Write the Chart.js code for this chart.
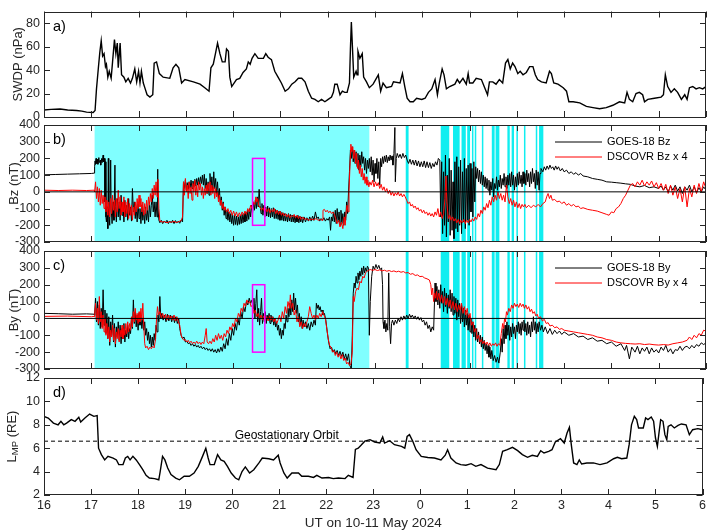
<!DOCTYPE html>
<html>
<head>
<meta charset="utf-8">
<script src="https://cdn.jsdelivr.net/npm/chart.js@4.4.1/dist/chart.umd.min.js"></script>
<style>
  html, body { margin: 0; padding: 0; background: #fff; }
  #wrap { position: relative; width: 709px; height: 532px; }
  #wrap canvas { position: absolute; left: 0; top: 0; }
</style>
</head>
<body>
<div id="wrap">
  <canvas id="pa" width="709" height="532"></canvas>
  <canvas id="pb" width="709" height="532"></canvas>
  <canvas id="pc" width="709" height="532"></canvas>
  <canvas id="pd" width="709" height="532"></canvas>
</div>
<script>
// x axis: hours from 16 UT on 10 May to 06 UT on 11 May
const hourTicks = [16, 17, 18, 19, 20, 21, 22, 23, 24, 25, 26, 27, 28, 29, 30];
const hourLabels = ["16", "17", "18", "19", "20", "21", "22", "23", "0", "1", "2", "3", "4", "5", "6"];
const swdpTicks = [0, 20, 40, 60, 80];
const fieldTicks = [-300, -200, -100, 0, 100, 200, 300, 400];
const lmpTicks = [2, 4, 6, 8, 10, 12];

// a) solar wind dynamic pressure (nPa)
const swdp = [[16.0,6],[16.15,6.5],[16.34,6.8],[16.5,6],[16.69,5.5],[16.8,5],[16.9,4.2],[17.04,3.9],[17.08,5.5],[17.11,24],[17.15,42],[17.18,55],[17.21,65],[17.24,52],[17.27,54],[17.3,43],[17.32,45],[17.35,34],[17.38,39],[17.42,33],[17.45,47],[17.49,66],[17.52,54],[17.55,63],[17.57,42],[17.61,63],[17.64,36],[17.69,34],[17.73,30],[17.78,33],[17.83,29],[17.87,33],[17.92,41],[17.96,30],[18.0,39],[18.03,29],[18.06,39],[18.1,29],[18.14,24],[18.18,19],[18.24,17],[18.3,19],[18.33,46],[18.38,47],[18.44,37],[18.52,34],[18.66,33],[18.73,42],[18.79,45],[18.85,42],[18.91,29],[18.98,32],[19.16,30],[19.3,28],[19.4,25],[19.49,22],[19.53,42],[19.58,45],[19.63,55],[19.67,63],[19.72,54],[19.77,47],[19.83,47],[19.86,58],[19.9,56],[19.93,34],[19.97,26],[20.07,32],[20.14,33],[20.21,38],[20.28,41],[20.32,47],[20.36,45],[20.4,50],[20.46,54],[20.53,50],[20.64,50],[20.69,54],[20.74,51],[20.81,49],[20.88,39],[20.95,34],[21.02,29],[21.1,22],[21.17,24],[21.24,28],[21.31,30],[21.38,33],[21.45,33],[21.52,30],[21.59,22],[21.66,16],[21.73,15],[21.8,13],[21.87,15],[21.94,13],[22.01,15],[22.08,17],[22.12,21],[22.15,28],[22.2,28],[22.26,19],[22.31,22],[22.36,21],[22.41,21],[22.46,29],[22.48,58],[22.5,81],[22.53,53],[22.55,34],[22.6,39],[22.62,36],[22.64,56],[22.68,50],[22.73,54],[22.76,34],[22.82,30],[22.88,25],[22.96,28],[23.07,36],[23.12,22],[23.17,29],[23.24,25],[23.35,26],[23.39,30],[23.53,29],[23.58,37],[23.63,26],[23.68,16],[23.74,13],[23.81,13],[23.88,16],[23.99,15],[24.06,16],[24.13,21],[24.2,24],[24.27,32],[24.32,19],[24.36,29],[24.42,41],[24.46,36],[24.51,24],[24.58,26],[24.69,28],[24.74,32],[24.79,29],[24.86,33],[24.93,28],[24.97,37],[25.0,29],[25.07,29],[25.14,33],[25.25,32],[25.32,25],[25.38,19],[25.42,30],[25.49,30],[25.56,28],[25.63,32],[25.7,29],[25.76,46],[25.81,49],[25.86,41],[25.91,46],[25.96,43],[26.02,37],[26.07,39],[26.13,36],[26.2,38],[26.27,43],[26.34,43],[26.39,36],[26.44,32],[26.52,30],[26.62,29],[26.69,39],[26.73,37],[26.78,29],[26.87,28],[26.98,25],[27.05,22],[27.1,13],[27.19,13],[27.33,12],[27.47,9],[27.61,8],[27.75,7],[27.89,8],[28.03,10],[28.17,13],[28.28,12],[28.33,21],[28.38,15],[28.45,13],[28.52,20],[28.59,21],[28.66,19],[28.7,13],[28.77,15],[28.91,16],[29.05,17],[29.1,19],[29.14,36],[29.19,26],[29.26,21],[29.33,24],[29.4,21],[29.48,15],[29.55,19],[29.6,15],[29.65,25],[29.72,26],[29.79,24],[29.86,25],[29.93,24],[30.0,26]];

// b) GOES-18 Bz (nT)
const bzGoes = [[16.0,102],[16.25,104],[16.5,106],[16.75,108],[17.0,110],[17.06,112],[17.07,150],[17.08,185],[17.09,165],[17.1,200],[17.11,170],[17.13,195],[17.14,165],[17.16,205],[17.17,175],[17.19,190],[17.2,160],[17.22,200],[17.23,175],[17.25,220],[17.26,180],[17.28,200],[17.29,-60],[17.3,180],[17.31,-150],[17.32,-180],[17.34,-90],[17.35,-220],[17.36,200],[17.37,-120],[17.39,-200],[17.41,190],[17.42,-100],[17.44,-190],[17.46,-60],[17.48,-170],[17.5,160],[17.51,-90],[17.53,-180],[17.55,-40],[17.57,-150],[17.59,-60],[17.61,-170],[17.63,-20],[17.65,-140],[17.67,-70],[17.69,-180],[17.71,-50],[17.73,-150],[17.75,-80],[17.77,-170],[17.79,-40],[17.81,-140],[17.83,-90],[17.85,-175],[17.87,20],[17.89,-120],[17.91,-60],[17.93,-160],[17.95,-90],[17.97,-180],[17.99,-70],[18.01,-160],[18.03,-100],[18.05,-190],[18.07,-80],[18.09,-170],[18.11,-110],[18.13,-190],[18.15,-90],[18.17,-170],[18.19,-110],[18.21,-180],[18.23,-60],[18.25,-150],[18.27,-80],[18.29,-20],[18.31,-120],[18.33,-60],[18.35,-150],[18.37,-60],[18.39,-150],[18.4,135],[18.41,-80],[18.43,-170],[18.45,-185],[18.48,-170],[18.51,-190],[18.54,-175],[18.57,-185],[18.6,-170],[18.63,-190],[18.66,-175],[18.69,-185],[18.72,-170],[18.75,-190],[18.78,-172],[18.81,-185],[18.84,-175],[18.87,-188],[18.9,-170],[18.93,-180],[18.95,60],[18.97,20],[18.99,70],[19.01,10],[19.03,55],[19.05,15],[19.07,60],[19.09,25],[19.11,70],[19.13,20],[19.15,65],[19.17,30],[19.19,75],[19.21,35],[19.23,80],[19.25,40],[19.27,85],[19.29,45],[19.31,90],[19.33,50],[19.35,100],[19.37,40],[19.39,105],[19.41,20],[19.43,80],[19.45,-10],[19.47,60],[19.49,-20],[19.51,110],[19.53,10],[19.55,90],[19.57,0],[19.59,120],[19.61,20],[19.63,80],[19.65,-10],[19.67,60],[19.69,-40],[19.71,20],[19.73,-80],[19.75,-30],[19.77,-110],[19.79,-60],[19.81,-140],[19.83,-90],[19.85,-160],[19.87,-110],[19.89,-170],[19.91,-120],[19.93,-180],[19.95,-130],[19.97,-190],[19.99,-140],[20.01,-200],[20.03,-140],[20.05,-195],[20.07,-145],[20.09,-200],[20.11,-150],[20.13,-195],[20.15,-140],[20.17,-190],[20.19,-135],[20.21,-185],[20.23,-130],[20.25,-180],[20.27,-120],[20.29,-175],[20.31,-110],[20.33,-165],[20.35,-100],[20.37,-150],[20.39,-80],[20.41,-130],[20.43,-60],[20.45,-110],[20.47,-50],[20.49,-100],[20.51,-30],[20.53,-90],[20.55,15],[20.57,-80],[20.59,-130],[20.61,-70],[20.63,-140],[20.65,-80],[20.67,-150],[20.69,-90],[20.71,-145],[20.73,-85],[20.75,-150],[20.77,-95],[20.79,-155],[20.81,-100],[20.83,-150],[20.85,-95],[20.87,-160],[20.89,-105],[20.91,-160],[20.93,-110],[20.95,-165],[20.97,-115],[20.99,-170],[21.01,-120],[21.03,-170],[21.05,-125],[21.07,-175],[21.09,-130],[21.11,-175],[21.13,-135],[21.15,-180],[21.17,-130],[21.19,-175],[21.21,-135],[21.23,-180],[21.25,-140],[21.27,-180],[21.29,-140],[21.31,-185],[21.33,-145],[21.35,-180],[21.37,-140],[21.39,-185],[21.41,-145],[21.43,-180],[21.45,-150],[21.47,-185],[21.5,-150],[21.53,-180],[21.56,-155],[21.59,-175],[21.62,-150],[21.65,-175],[21.68,-145],[21.71,-170],[21.74,-120],[21.77,-160],[21.8,-150],[21.83,-175],[21.86,-160],[21.89,-170],[21.92,-155],[21.95,-175],[21.98,-160],[22.01,-170],[22.04,-150],[22.06,-230],[22.08,-150],[22.1,-175],[22.12,-120],[22.14,-180],[22.16,-110],[22.18,-190],[22.2,-100],[22.22,-180],[22.24,-120],[22.26,-200],[22.28,-110],[22.3,-190],[22.32,-130],[22.34,-200],[22.36,-120],[22.38,-170],[22.4,-60],[22.42,-130],[22.44,0],[22.46,120],[22.48,250],[22.5,200],[22.52,270],[22.54,180],[22.56,250],[22.58,170],[22.6,240],[22.62,150],[22.64,230],[22.66,130],[22.68,220],[22.7,150],[22.72,240],[22.74,170],[22.76,210],[22.78,130],[22.8,200],[22.82,110],[22.84,190],[22.86,140],[22.88,200],[22.9,120],[22.92,210],[22.94,100],[22.96,190],[22.98,60],[23.0,170],[23.02,110],[23.04,200],[23.06,80],[23.08,180],[23.1,40],[23.12,200],[23.14,150],[23.16,210],[23.18,170],[23.2,215],[23.22,180],[23.24,220],[23.26,175],[23.28,210],[23.3,185],[23.32,220],[23.34,190],[23.36,215],[23.38,160],[23.4,230],[23.42,385],[23.43,60],[23.45,200],[23.47,230],[23.5,205],[23.53,225],[23.56,200],[23.59,230],[23.62,205],[23.65,220],[23.68,190],[23.71,170],[23.74,195],[23.77,165],[23.8,190],[23.83,160],[23.86,190],[23.89,155],[23.92,185],[23.95,150],[23.98,180],[24.01,150],[24.04,185],[24.07,145],[24.1,180],[24.13,145],[24.16,175],[24.19,140],[24.22,170],[24.25,150],[24.28,180],[24.31,160],[24.34,200],[24.37,190],[24.39,-150],[24.41,180],[24.43,-250],[24.45,120],[24.47,-200],[24.49,220],[24.51,-270],[24.53,100],[24.55,-180],[24.57,200],[24.59,-260],[24.61,130],[24.63,-230],[24.65,60],[24.67,-280],[24.69,180],[24.71,-220],[24.73,210],[24.75,-240],[24.77,150],[24.79,-200],[24.81,190],[24.83,-250],[24.85,120],[24.87,-180],[24.89,200],[24.91,-220],[24.93,140],[24.95,-170],[24.97,160],[24.99,-200],[25.01,170],[25.03,-120],[25.05,140],[25.07,-150],[25.09,180],[25.11,-60],[25.13,150],[25.15,80],[25.17,140],[25.19,60],[25.21,130],[25.23,50],[25.25,120],[25.27,40],[25.29,100],[25.31,30],[25.33,90],[25.35,20],[25.37,80],[25.39,10],[25.41,70],[25.43,-20],[25.45,60],[25.47,10],[25.49,80],[25.51,-30],[25.53,50],[25.55,20],[25.57,90],[25.59,10],[25.61,70],[25.63,30],[25.65,100],[25.67,20],[25.69,80],[25.71,40],[25.73,110],[25.75,30],[25.77,90],[25.79,20],[25.81,100],[25.83,40],[25.85,110],[25.87,30],[25.89,120],[25.91,40],[25.93,100],[25.95,10],[25.97,90],[25.99,30],[26.01,110],[26.03,40],[26.05,120],[26.07,50],[26.09,100],[26.11,30],[26.13,120],[26.15,50],[26.17,110],[26.19,40],[26.21,130],[26.23,60],[26.25,110],[26.27,30],[26.29,120],[26.31,50],[26.33,140],[26.35,60],[26.37,110],[26.39,20],[26.41,130],[26.43,40],[26.45,120],[26.47,10],[26.49,110],[26.51,140],[26.55,120],[26.58,150],[26.61,130],[26.64,155],[26.67,135],[26.7,160],[26.73,140],[26.76,150],[26.79,130],[26.82,155],[26.85,135],[26.88,150],[26.92,125],[26.96,140],[27.0,120],[27.05,130],[27.1,110],[27.15,120],[27.2,105],[27.25,115],[27.3,100],[27.35,110],[27.4,95],[27.5,90],[27.6,80],[27.7,75],[27.8,70],[27.9,60],[28.0,58],[28.1,55],[28.2,52],[28.3,48],[28.4,45],[28.5,35],[28.6,30],[28.7,38],[28.8,25],[28.9,30],[29.0,20],[29.05,35],[29.1,10],[29.15,30],[29.2,0],[29.25,35],[29.3,10],[29.35,40],[29.4,5],[29.45,30],[29.5,-10],[29.55,30],[29.6,10],[29.65,40],[29.7,0],[29.75,30],[29.8,-5],[29.85,25],[29.9,0],[29.95,30],[30.0,10]];

// b) DSCOVR Bz x 4 (nT)
const bzDscovr = [[16.0,10],[16.3,8],[16.6,10],[16.9,8],[17.06,10],[17.07,0],[17.09,60],[17.11,-40],[17.13,30],[17.15,-60],[17.17,20],[17.19,-80],[17.21,10],[17.23,-70],[17.25,-20],[17.27,-100],[17.29,-30],[17.31,-120],[17.33,-50],[17.35,-140],[17.37,-60],[17.39,-150],[17.41,-40],[17.43,-130],[17.45,-20],[17.47,-110],[17.49,-50],[17.51,-150],[17.53,-40],[17.55,-120],[17.57,10],[17.59,-100],[17.61,-30],[17.63,-140],[17.65,-60],[17.67,-120],[17.69,-30],[17.71,-150],[17.73,-60],[17.75,-130],[17.77,-40],[17.79,-160],[17.81,-70],[17.83,-140],[17.85,-80],[17.87,-170],[17.89,-90],[17.91,-140],[17.93,-60],[17.95,-120],[17.97,-40],[17.99,-100],[18.01,-20],[18.03,-90],[18.05,-40],[18.07,-120],[18.09,-60],[18.11,-140],[18.13,-70],[18.15,-130],[18.17,-50],[18.19,-110],[18.21,-30],[18.23,-80],[18.25,-10],[18.27,-60],[18.29,20],[18.31,-40],[18.33,40],[18.35,-20],[18.37,60],[18.39,-30],[18.41,75],[18.43,-100],[18.45,-175],[18.5,-180],[18.55,-178],[18.6,-185],[18.65,-178],[18.7,-182],[18.75,-176],[18.8,-184],[18.85,-178],[18.9,-172],[18.93,-150],[18.95,60],[18.97,-20],[18.99,80],[19.01,0],[19.03,40],[19.05,-40],[19.07,60],[19.09,-10],[19.11,30],[19.13,-50],[19.15,50],[19.17,0],[19.19,70],[19.21,-20],[19.23,40],[19.25,-30],[19.27,60],[19.29,10],[19.31,50],[19.33,-20],[19.35,30],[19.37,-40],[19.39,20],[19.41,-20],[19.43,40],[19.45,-10],[19.47,50],[19.49,0],[19.51,60],[19.53,-20],[19.55,40],[19.57,-10],[19.59,30],[19.61,-40],[19.63,20],[19.65,-30],[19.67,0],[19.69,-60],[19.71,-20],[19.73,-80],[19.75,-50],[19.77,-100],[19.79,-70],[19.81,-110],[19.83,-90],[19.86,-120],[19.89,-100],[19.92,-130],[19.95,-110],[19.98,-140],[20.01,-115],[20.04,-145],[20.07,-120],[20.1,-150],[20.13,-125],[20.16,-145],[20.19,-120],[20.22,-140],[20.25,-115],[20.28,-135],[20.31,-100],[20.34,-120],[20.37,-80],[20.4,-100],[20.43,-60],[20.46,-75],[20.48,-30],[20.5,-60],[20.52,-40],[20.54,-80],[20.57,-95],[20.6,-110],[20.63,-95],[20.66,-115],[20.69,-100],[20.72,-120],[20.75,-100],[20.78,-125],[20.81,-105],[20.84,-120],[20.87,-100],[20.9,-130],[20.93,-110],[20.96,-135],[20.99,-115],[21.02,-140],[21.05,-125],[21.08,-145],[21.11,-130],[21.14,-150],[21.17,-135],[21.2,-155],[21.23,-140],[21.26,-150],[21.29,-135],[21.32,-155],[21.35,-140],[21.38,-160],[21.41,-145],[21.44,-165],[21.47,-150],[21.5,-165],[21.55,-160],[21.6,-170],[21.65,-162],[21.7,-168],[21.75,-160],[21.8,-170],[21.85,-165],[21.88,-170],[21.9,-110],[21.93,-105],[21.96,-120],[21.99,-110],[22.02,-125],[22.05,-115],[22.08,-130],[22.11,-120],[22.14,-135],[22.17,-160],[22.2,-190],[22.23,-170],[22.26,-210],[22.29,-180],[22.32,-220],[22.35,-150],[22.37,-200],[22.39,-120],[22.41,-80],[22.43,-120],[22.45,0],[22.47,150],[22.49,285],[22.51,240],[22.53,270],[22.55,200],[22.57,250],[22.59,170],[22.61,230],[22.63,140],[22.65,190],[22.67,110],[22.69,160],[22.71,90],[22.73,140],[22.75,70],[22.77,110],[22.79,50],[22.81,90],[22.83,40],[22.85,70],[22.87,30],[22.89,60],[22.92,40],[22.95,70],[22.98,30],[23.01,60],[23.04,35],[23.07,55],[23.1,20],[23.13,45],[23.16,10],[23.19,30],[23.22,0],[23.25,20],[23.28,-10],[23.31,10],[23.34,-20],[23.37,0],[23.4,-25],[23.43,-5],[23.46,-20],[23.49,0],[23.52,-25],[23.55,-10],[23.58,-30],[23.61,-15],[23.64,-30],[23.67,-50],[23.7,-70],[23.73,-60],[23.76,-85],[23.79,-75],[23.82,-95],[23.85,-85],[23.88,-105],[23.91,-95],[23.94,-115],[23.97,-105],[24.0,-125],[24.03,-110],[24.06,-130],[24.09,-120],[24.12,-140],[24.15,-125],[24.18,-145],[24.21,-130],[24.24,-150],[24.27,-120],[24.3,-140],[24.33,-100],[24.36,-150],[24.39,-120],[24.42,-160],[24.45,-130],[24.48,-40],[24.5,95],[24.52,-60],[24.55,-160],[24.58,-140],[24.61,-170],[24.64,-150],[24.67,-175],[24.7,-160],[24.73,-185],[24.76,-165],[24.79,-190],[24.82,-170],[24.85,-185],[24.88,-165],[24.91,-190],[24.94,-170],[24.97,-185],[25.0,-165],[25.03,-180],[25.06,-160],[25.09,-175],[25.12,-150],[25.15,-165],[25.18,-130],[25.21,-150],[25.24,-110],[25.27,-130],[25.3,-90],[25.33,-110],[25.36,-70],[25.39,-95],[25.42,-50],[25.45,-80],[25.48,-30],[25.51,-60],[25.54,-20],[25.57,-50],[25.6,0],[25.63,-40],[25.66,-10],[25.69,-50],[25.72,-20],[25.75,-60],[25.78,40],[25.81,-30],[25.84,-70],[25.87,-40],[25.9,-80],[25.93,-50],[25.96,-90],[25.99,-60],[26.02,-95],[26.05,-70],[26.08,-100],[26.11,-75],[26.14,-90],[26.17,-75],[26.2,-95],[26.25,-80],[26.3,-95],[26.35,-80],[26.4,-90],[26.45,-75],[26.5,-90],[26.55,-70],[26.6,-60],[26.63,-30],[26.66,-10],[26.69,-40],[26.72,-20],[26.75,-50],[26.8,-45],[26.85,-60],[26.9,-55],[26.95,-70],[27.0,-60],[27.05,-80],[27.1,-70],[27.15,-85],[27.2,-75],[27.25,-90],[27.3,-85],[27.35,-100],[27.4,-95],[27.5,-105],[27.6,-110],[27.7,-115],[27.8,-125],[27.9,-135],[27.95,-140],[28.0,-120],[28.05,-125],[28.1,-100],[28.15,-90],[28.2,-70],[28.25,-40],[28.3,-20],[28.35,10],[28.4,40],[28.45,50],[28.5,30],[28.55,60],[28.6,40],[28.65,70],[28.7,35],[28.75,60],[28.8,40],[28.85,65],[28.9,30],[28.95,55],[29.0,20],[29.05,50],[29.1,10],[29.15,45],[29.2,-10],[29.25,40],[29.3,-20],[29.35,30],[29.4,-40],[29.45,20],[29.5,-60],[29.55,30],[29.6,-90],[29.65,20],[29.7,-30],[29.75,40],[29.8,-10],[29.85,50],[29.9,0],[29.95,60],[30.0,20]];

// c) GOES-18 By (nT)
const byGoes = [[16.0,30],[16.3,28],[16.6,25],[16.9,27],[17.06,25],[17.07,20],[17.09,120],[17.11,-20],[17.13,100],[17.15,-40],[17.17,80],[17.19,-60],[17.21,60],[17.23,-50],[17.25,170],[17.27,-40],[17.29,50],[17.31,-90],[17.33,30],[17.35,-120],[17.37,10],[17.39,-160],[17.41,-20],[17.43,-100],[17.45,20],[17.47,-140],[17.49,-30],[17.51,-170],[17.53,-50],[17.55,-110],[17.57,-20],[17.59,-130],[17.61,-40],[17.63,-150],[17.65,-60],[17.67,-120],[17.69,-30],[17.71,-140],[17.73,-70],[17.75,-110],[17.77,-40],[17.79,-120],[17.81,-60],[17.83,-90],[17.85,0],[17.87,-60],[17.89,110],[17.91,-30],[17.93,40],[17.95,-50],[17.97,20],[17.99,-70],[18.01,30],[18.03,-40],[18.05,10],[18.07,-60],[18.09,0],[18.11,-70],[18.13,-20],[18.15,-100],[18.17,-60],[18.19,-130],[18.21,-80],[18.23,-150],[18.25,-100],[18.27,-170],[18.29,-110],[18.31,-160],[18.33,-90],[18.35,-130],[18.37,-40],[18.39,-80],[18.41,20],[18.43,-20],[18.45,130],[18.47,0],[18.49,30],[18.52,-10],[18.55,20],[18.58,-20],[18.61,25],[18.64,-15],[18.67,20],[18.7,-20],[18.73,15],[18.76,-25],[18.79,10],[18.82,-30],[18.85,0],[18.87,-60],[18.9,-100],[18.93,-120],[18.96,-110],[18.99,-140],[19.02,-135],[19.05,-150],[19.08,-145],[19.11,-160],[19.14,-150],[19.17,-165],[19.2,-155],[19.23,-170],[19.26,-160],[19.29,-175],[19.32,-165],[19.35,-180],[19.38,-170],[19.41,-185],[19.44,-175],[19.47,-190],[19.5,-180],[19.53,-195],[19.56,-180],[19.59,-200],[19.62,-185],[19.65,-205],[19.68,-180],[19.71,-200],[19.74,-170],[19.77,-195],[19.8,-150],[19.83,-180],[19.86,-120],[19.89,-160],[19.92,-90],[19.95,-130],[19.98,-60],[20.01,-100],[20.04,-30],[20.07,-70],[20.1,0],[20.13,-40],[20.16,40],[20.19,0],[20.22,70],[20.25,40],[20.28,100],[20.31,80],[20.34,120],[20.37,90],[20.4,110],[20.42,60],[20.44,120],[20.46,0],[20.48,90],[20.5,170],[20.52,-20],[20.54,60],[20.56,-40],[20.58,40],[20.6,120],[20.62,-30],[20.64,30],[20.66,-20],[20.68,40],[20.7,-30],[20.72,20],[20.74,-10],[20.76,30],[20.78,-30],[20.8,20],[20.82,-20],[20.84,10],[20.86,-40],[20.88,0],[20.9,-50],[20.92,-20],[20.94,-70],[20.96,-40],[20.98,-100],[21.0,-60],[21.02,-120],[21.04,-70],[21.06,-100],[21.08,-30],[21.1,-60],[21.12,20],[21.14,-20],[21.16,60],[21.18,10],[21.2,90],[21.22,20],[21.24,110],[21.26,40],[21.28,150],[21.3,50],[21.32,120],[21.34,30],[21.36,80],[21.38,-20],[21.4,30],[21.42,-40],[21.44,10],[21.46,-60],[21.48,-10],[21.5,-50],[21.53,-20],[21.56,-60],[21.59,-30],[21.62,-70],[21.65,-20],[21.68,-50],[21.71,-10],[21.74,-40],[21.76,90],[21.78,60],[21.8,80],[21.82,50],[21.84,70],[21.86,40],[21.88,50],[21.9,20],[21.93,30],[21.96,-10],[21.99,-80],[22.02,-140],[22.05,-180],[22.08,-170],[22.11,-200],[22.14,-185],[22.17,-210],[22.2,-190],[22.23,-220],[22.26,-195],[22.29,-225],[22.32,-200],[22.35,-240],[22.38,-210],[22.41,-250],[22.44,-210],[22.47,-280],[22.5,-300],[22.52,-100],[22.54,150],[22.56,210],[22.58,180],[22.6,250],[22.62,210],[22.64,270],[22.66,230],[22.68,280],[22.7,250],[22.72,300],[22.74,260],[22.76,310],[22.78,270],[22.8,300],[22.82,280],[22.84,310],[22.86,300],[22.88,-100],[22.9,100],[22.93,250],[22.96,310],[22.99,290],[23.02,320],[23.05,295],[23.08,315],[23.11,290],[23.14,300],[23.16,200],[23.17,-20],[23.19,-60],[23.21,-10],[23.23,-80],[23.25,-30],[23.27,-70],[23.29,270],[23.31,-50],[23.33,-150],[23.35,-30],[23.37,-10],[23.4,-40],[23.43,-10],[23.46,-30],[23.49,0],[23.52,-20],[23.55,10],[23.58,-10],[23.61,15],[23.64,-5],[23.67,20],[23.7,0],[23.73,25],[23.76,5],[23.79,20],[23.82,0],[23.85,15],[23.88,-5],[23.91,10],[23.94,-10],[23.97,5],[24.0,-20],[24.03,-10],[24.06,-40],[24.09,-20],[24.12,-60],[24.15,-40],[24.18,-80],[24.21,-50],[24.24,-70],[24.27,210],[24.29,100],[24.31,190],[24.33,80],[24.35,170],[24.37,60],[24.39,200],[24.41,90],[24.43,160],[24.45,40],[24.47,180],[24.49,70],[24.51,150],[24.53,30],[24.55,140],[24.57,60],[24.59,170],[24.61,40],[24.63,150],[24.65,20],[24.67,130],[24.69,30],[24.71,120],[24.73,-10],[24.75,110],[24.77,10],[24.79,90],[24.81,-30],[24.83,80],[24.85,-20],[24.87,60],[24.89,-50],[24.91,50],[24.93,-40],[24.95,30],[24.97,-70],[24.99,20],[25.01,-80],[25.03,0],[25.05,-90],[25.07,-20],[25.09,-110],[25.11,-40],[25.13,-130],[25.15,-60],[25.17,-140],[25.19,-80],[25.21,-150],[25.23,-100],[25.25,-170],[25.27,-110],[25.29,-180],[25.31,-130],[25.33,-190],[25.35,-150],[25.37,-210],[25.39,-160],[25.41,-230],[25.43,-170],[25.45,-240],[25.47,-190],[25.5,-250],[25.53,-220],[25.56,-260],[25.59,-230],[25.62,-265],[25.65,-200],[25.67,-120],[25.69,-200],[25.71,-60],[25.73,-150],[25.75,-40],[25.77,-120],[25.79,-20],[25.81,-100],[25.83,-40],[25.85,-130],[25.87,-50],[25.89,-110],[25.91,-30],[25.93,-90],[25.95,-50],[25.97,-120],[25.99,-40],[26.01,-80],[26.03,-20],[26.05,-90],[26.07,-30],[26.09,-100],[26.11,-20],[26.13,-70],[26.15,-10],[26.17,-80],[26.19,-30],[26.21,-100],[26.23,-20],[26.25,-90],[26.27,-40],[26.29,-110],[26.31,-20],[26.33,-80],[26.35,10],[26.37,-70],[26.39,-20],[26.41,-90],[26.43,-30],[26.45,-80],[26.47,-20],[26.5,-70],[26.53,-40],[26.56,-80],[26.6,-50],[26.65,-90],[26.7,-60],[26.75,-95],[26.8,-70],[26.85,-90],[26.9,-75],[26.95,-95],[27.0,-80],[27.1,-100],[27.2,-90],[27.3,-110],[27.4,-105],[27.5,-125],[27.6,-115],[27.7,-135],[27.8,-130],[27.9,-150],[28.0,-140],[28.1,-165],[28.2,-150],[28.28,-190],[28.32,-160],[28.38,-240],[28.43,-170],[28.5,-200],[28.55,-165],[28.6,-210],[28.65,-175],[28.7,-195],[28.75,-170],[28.8,-210],[28.85,-175],[28.9,-200],[28.95,-185],[29.0,-205],[29.05,-170],[29.1,-190],[29.15,-160],[29.2,-200],[29.25,-180],[29.3,-210],[29.35,-185],[29.4,-190],[29.45,-165],[29.5,-190],[29.55,-170],[29.6,-165],[29.65,-180],[29.7,-160],[29.75,-175],[29.8,-155],[29.85,-165],[29.9,-145],[29.95,-155],[30.0,-145]];

// c) DSCOVR By x 4 (nT)
const byDscovr = [[16.0,12],[16.5,14],[17.0,10],[17.06,12],[17.07,10],[17.09,90],[17.11,-10],[17.13,60],[17.15,-30],[17.17,130],[17.19,-20],[17.21,40],[17.23,-60],[17.25,20],[17.27,-80],[17.29,0],[17.31,-100],[17.33,-30],[17.35,-120],[17.37,-50],[17.39,-140],[17.41,-70],[17.43,-110],[17.45,-40],[17.47,-130],[17.49,-60],[17.51,-150],[17.53,-80],[17.55,-120],[17.57,-60],[17.59,-140],[17.61,-70],[17.63,-110],[17.65,-40],[17.67,-120],[17.69,-60],[17.71,-100],[17.73,-30],[17.75,-90],[17.77,-20],[17.79,-80],[17.81,-30],[17.83,-70],[17.85,10],[17.87,-50],[17.89,40],[17.91,-20],[17.93,60],[17.95,-10],[17.97,30],[17.99,-30],[18.01,40],[18.03,-20],[18.05,60],[18.07,-10],[18.09,90],[18.11,-40],[18.13,-150],[18.15,-175],[18.18,-165],[18.21,-185],[18.24,-170],[18.27,-180],[18.3,-165],[18.33,-175],[18.36,-120],[18.38,0],[18.4,70],[18.42,20],[18.45,40],[18.48,5],[18.51,30],[18.54,0],[18.57,25],[18.6,-10],[18.63,20],[18.66,-5],[18.69,15],[18.72,-10],[18.75,20],[18.78,-15],[18.81,10],[18.84,-20],[18.87,-40],[18.9,-100],[18.93,-120],[18.96,-130],[18.99,-125],[19.02,-140],[19.05,-130],[19.08,-145],[19.11,-135],[19.14,-150],[19.17,-140],[19.2,-150],[19.23,-135],[19.26,-150],[19.29,-140],[19.32,-155],[19.35,-140],[19.38,-150],[19.41,-100],[19.43,-60],[19.45,-140],[19.48,-150],[19.51,-135],[19.54,-150],[19.57,-120],[19.6,-140],[19.63,-100],[19.66,-130],[19.69,-90],[19.72,-120],[19.75,-100],[19.78,-130],[19.81,-90],[19.84,-110],[19.87,-70],[19.9,-90],[19.93,-50],[19.96,-70],[19.99,-30],[20.02,-50],[20.05,0],[20.08,-20],[20.11,30],[20.14,10],[20.17,60],[20.2,40],[20.23,90],[20.26,70],[20.29,110],[20.32,90],[20.35,100],[20.38,70],[20.41,80],[20.44,30],[20.47,50],[20.5,10],[20.53,30],[20.56,0],[20.59,20],[20.62,-10],[20.65,15],[20.68,-10],[20.71,10],[20.74,-15],[20.77,15],[20.8,-10],[20.83,10],[20.86,-20],[20.89,0],[20.92,-30],[20.95,-10],[20.98,20],[21.01,-20],[21.04,40],[21.07,0],[21.1,70],[21.13,30],[21.16,100],[21.19,60],[21.21,140],[21.23,60],[21.26,90],[21.29,20],[21.32,50],[21.35,-20],[21.38,10],[21.41,-50],[21.44,-20],[21.47,-60],[21.5,-30],[21.53,-50],[21.56,-20],[21.59,10],[21.62,70],[21.65,30],[21.68,0],[21.71,20],[21.74,-10],[21.77,20],[21.8,0],[21.83,30],[21.86,10],[21.89,40],[21.92,20],[21.95,0],[21.98,-60],[22.01,-120],[22.04,-160],[22.07,-170],[22.1,-200],[22.13,-190],[22.16,-220],[22.19,-200],[22.22,-230],[22.25,-210],[22.28,-240],[22.31,-215],[22.34,-250],[22.37,-235],[22.4,-270],[22.43,-260],[22.46,-280],[22.49,-270],[22.52,-200],[22.54,130],[22.56,100],[22.59,160],[22.62,180],[22.65,170],[22.68,220],[22.71,210],[22.74,250],[22.77,240],[22.8,270],[22.83,280],[22.86,285],[22.9,290],[22.95,285],[23.0,290],[23.05,284],[23.1,288],[23.15,282],[23.2,286],[23.25,280],[23.3,284],[23.35,278],[23.4,282],[23.45,276],[23.5,280],[23.55,274],[23.6,278],[23.65,270],[23.7,272],[23.75,262],[23.8,266],[23.85,255],[23.9,258],[23.95,248],[24.0,250],[24.05,240],[24.1,235],[24.15,228],[24.18,200],[24.2,140],[24.22,180],[24.24,100],[24.26,150],[24.28,120],[24.3,160],[24.32,110],[24.35,150],[24.38,100],[24.41,140],[24.44,90],[24.47,130],[24.5,80],[24.53,120],[24.56,70],[24.59,110],[24.62,60],[24.65,100],[24.68,50],[24.71,90],[24.74,40],[24.77,80],[24.8,50],[24.83,90],[24.86,30],[24.89,70],[24.92,20],[24.95,60],[24.98,0],[25.01,30],[25.04,-40],[25.07,-20],[25.1,-80],[25.13,-60],[25.16,-120],[25.19,-100],[25.22,-140],[25.25,-125],[25.28,-150],[25.31,-135],[25.34,-155],[25.37,-140],[25.4,-160],[25.43,-145],[25.46,-165],[25.49,-150],[25.52,-160],[25.55,-145],[25.58,-165],[25.61,-150],[25.64,-160],[25.67,-90],[25.7,-30],[25.72,-60],[25.74,0],[25.76,-20],[25.78,40],[25.8,20],[25.83,60],[25.86,40],[25.89,80],[25.92,60],[25.95,90],[25.98,70],[26.01,85],[26.04,65],[26.07,90],[26.1,70],[26.13,85],[26.16,60],[26.19,80],[26.22,55],[26.25,70],[26.28,40],[26.31,55],[26.34,30],[26.37,40],[26.4,15],[26.43,25],[26.46,0],[26.5,10],[26.54,-15],[26.58,-5],[26.62,-30],[26.66,-25],[26.7,-45],[26.75,-40],[26.8,-55],[26.85,-50],[26.9,-65],[26.95,-60],[27.0,-70],[27.1,-75],[27.2,-80],[27.3,-85],[27.4,-90],[27.5,-95],[27.6,-100],[27.7,-110],[27.8,-115],[27.9,-125],[28.0,-130],[28.1,-140],[28.2,-145],[28.3,-148],[28.4,-150],[28.5,-152],[28.6,-150],[28.7,-155],[28.8,-152],[28.9,-156],[29.0,-158],[29.1,-155],[29.2,-158],[29.3,-150],[29.4,-145],[29.5,-140],[29.6,-130],[29.65,-110],[29.7,-125],[29.75,-100],[29.8,-115],[29.85,-90],[29.9,-100],[29.95,-70],[30.0,-75]];

// d) magnetopause standoff distance (RE)
const lmp = [[16.0,8.72],[16.09,8.58],[16.2,8.15],[16.3,8.0],[16.36,8.3],[16.42,8.0],[16.48,8.15],[16.58,8.44],[16.66,8.3],[16.74,8.64],[16.78,8.24],[16.87,8.58],[16.97,8.92],[17.06,8.72],[17.13,8.78],[17.16,6.0],[17.22,5.45],[17.29,5.0],[17.36,5.3],[17.47,5.16],[17.54,5.0],[17.59,4.6],[17.68,4.6],[17.73,5.16],[17.78,5.3],[17.83,5.0],[17.89,5.3],[17.96,5.0],[18.03,4.6],[18.1,4.16],[18.17,3.68],[18.24,3.45],[18.35,3.4],[18.44,3.3],[18.47,4.0],[18.52,5.3],[18.57,5.0],[18.63,4.3],[18.7,3.74],[18.8,3.45],[18.88,3.3],[18.98,3.6],[19.09,3.6],[19.19,3.88],[19.28,4.45],[19.37,5.3],[19.44,6.0],[19.49,5.16],[19.53,4.6],[19.62,4.6],[19.69,5.45],[19.76,5.0],[19.83,4.88],[19.9,4.45],[19.98,3.88],[20.07,3.45],[20.14,3.3],[20.21,4.0],[20.28,4.4],[20.37,3.88],[20.46,4.16],[20.57,4.74],[20.64,5.16],[20.78,5.1],[20.88,5.0],[20.98,5.4],[21.02,4.74],[21.1,3.88],[21.17,3.45],[21.27,3.88],[21.41,3.88],[21.48,3.6],[21.62,3.6],[21.73,3.5],[21.8,3.68],[21.91,3.45],[22.05,3.5],[22.15,3.4],[22.26,3.45],[22.4,3.4],[22.47,3.68],[22.57,3.5],[22.62,5.9],[22.68,6.0],[22.74,6.25],[22.82,6.6],[22.93,6.73],[23.03,6.53],[23.14,6.44],[23.2,6.96],[23.24,6.44],[23.35,6.64],[23.45,6.3],[23.6,6.16],[23.67,6.0],[23.72,7.0],[23.77,7.16],[23.84,6.6],[23.91,5.87],[24.02,5.3],[24.16,5.2],[24.3,5.16],[24.44,5.0],[24.53,5.4],[24.58,5.87],[24.65,5.16],[24.76,4.74],[24.86,4.6],[24.97,4.54],[25.08,4.68],[25.18,4.45],[25.29,4.6],[25.43,4.3],[25.61,4.16],[25.68,4.6],[25.75,5.73],[25.85,5.87],[25.96,6.07],[26.07,5.79],[26.17,5.45],[26.28,5.22],[26.38,5.39],[26.49,5.3],[26.56,5.79],[26.63,5.59],[26.73,5.73],[26.8,5.87],[26.87,6.53],[26.98,6.81],[27.06,6.44],[27.12,7.3],[27.17,7.78],[27.21,6.3],[27.26,4.74],[27.33,4.6],[27.38,5.0],[27.43,4.65],[27.54,4.74],[27.68,4.74],[27.82,4.6],[27.97,4.74],[28.11,5.1],[28.19,5.22],[28.28,5.1],[28.39,5.16],[28.44,6.3],[28.49,8.0],[28.55,8.72],[28.6,8.44],[28.64,7.73],[28.74,7.73],[28.79,8.58],[28.84,8.44],[28.91,8.67],[28.96,8.3],[29.0,6.87],[29.04,6.16],[29.07,7.16],[29.11,8.44],[29.16,8.3],[29.2,7.16],[29.24,6.73],[29.27,7.87],[29.33,8.0],[29.4,7.73],[29.48,7.95],[29.55,8.07],[29.65,8.0],[29.72,7.16],[29.79,7.58],[29.9,7.67],[30.0,7.58]];
const geoOrbit = 6.6;

// shaded intervals (hours) in panels b and c
const mainShade = [[17.07, 22.88]];
const cyanBars = [[23.65,23.71],[24.39,24.57],[24.65,24.79],[24.83,24.92],[24.95,25.01],[25.05,25.08],[25.11,25.14],[25.26,25.29],[25.47,25.53],[25.55,25.63],[25.80,25.85],[25.89,25.94],[25.99,26.01],[26.15,26.18],[26.40,26.42],[26.47,26.56]];
const boxHours = [20.41, 20.67];
const boxField = [-200, 200];

const AXIS = "#262626";
const FONT = "'Liberation Sans', Arial, Helvetica, sans-serif";
const xy = arr => arr.map(([x, y]) => ({ x, y }));

function decoPlugin(cfg) {
  return {
    id: "deco",
    beforeDatasetsDraw(chart) {
      const { ctx, chartArea: a, scales } = chart;
      const xs = scales.x;
      ctx.save();
      ctx.beginPath();
      ctx.rect(a.left, a.top, a.right - a.left, a.bottom - a.top);
      ctx.clip();
      (cfg.shade || []).forEach(([s, e]) => {
        const x1 = xs.getPixelForValue(s), x2 = xs.getPixelForValue(e);
        ctx.fillStyle = "#80ffff";
        ctx.fillRect(x1, a.top, x2 - x1, a.bottom - a.top);
      });
      (cfg.bars || []).forEach(([s, e]) => {
        const x1 = xs.getPixelForValue(s), x2 = xs.getPixelForValue(e);
        ctx.fillStyle = "#10eef0";
        ctx.fillRect(x1, a.top, Math.max(x2 - x1, 1.5), a.bottom - a.top);
      });
      ctx.restore();
    },
    afterDatasetsDraw(chart) {
      const { ctx, chartArea: a, scales } = chart;
      const xs = scales.x, ys = scales.y;
      ctx.save();
      if (cfg.box) {
        const x1 = xs.getPixelForValue(boxHours[0]), x2 = xs.getPixelForValue(boxHours[1]);
        const y1 = ys.getPixelForValue(boxField[1]), y2 = ys.getPixelForValue(boxField[0]);
        ctx.strokeStyle = "#ff00ff";
        ctx.lineWidth = 1.5;
        ctx.strokeRect(x1, y1, x2 - x1, y2 - y1);
      }
      // axes box and inward ticks
      ctx.strokeStyle = AXIS;
      ctx.lineWidth = 1;
      ctx.strokeRect(Math.round(a.left) + 0.5, Math.round(a.top) + 0.5, Math.round(a.right - a.left) - 1, Math.round(a.bottom - a.top) - 1);
      ctx.beginPath();
      hourTicks.forEach(v => {
        const x = Math.round(xs.getPixelForValue(v)) + 0.5;
        ctx.moveTo(x, a.top); ctx.lineTo(x, a.top + 6);
        ctx.moveTo(x, a.bottom); ctx.lineTo(x, a.bottom - 6);
      });
      cfg.yTicks.forEach(v => {
        const y = Math.round(ys.getPixelForValue(v)) + 0.5;
        ctx.moveTo(a.left, y); ctx.lineTo(a.left + 6, y);
        ctx.moveTo(a.right, y); ctx.lineTo(a.right - 6, y);
      });
      ctx.stroke();
      // panel letter
      ctx.fillStyle = "#000";
      ctx.font = "14.5px " + FONT;
      ctx.textAlign = "left";
      ctx.textBaseline = "middle";
      ctx.fillText(cfg.letter, a.left + 9, a.top + 15);
      // y title
      ctx.fillStyle = AXIS;
      ctx.translate(cfg.titleX, (a.top + a.bottom) / 2);
      ctx.rotate(-Math.PI / 2);
      ctx.textBaseline = "middle";
      ctx.textAlign = "left";
      const parts = cfg.title;
      let total = 0;
      parts.forEach(p => { ctx.font = p.size + "px " + FONT; total += ctx.measureText(p.t).width; });
      let pos = -total / 2;
      parts.forEach(p => {
        ctx.font = p.size + "px " + FONT;
        ctx.fillText(p.t, pos, p.dy || 0);
        pos += ctx.measureText(p.t).width;
      });
      ctx.setTransform(1, 0, 0, 1, 0, 0);
      // legend
      if (cfg.legend) {
        ctx.font = "11px " + FONT;
        ctx.textAlign = "left";
        ctx.textBaseline = "middle";
        cfg.legend.forEach((item, i) => {
          const y = a.top + 17 + i * 15;
          ctx.strokeStyle = item.color;
          ctx.lineWidth = 1;
          ctx.beginPath();
          ctx.moveTo(a.right - 151, y); ctx.lineTo(a.right - 104, y);
          ctx.stroke();
          ctx.fillStyle = "#000";
          ctx.fillText(item.label, a.right - 99, y);
        });
      }
      if (cfg.note) {
        ctx.font = "12px " + FONT;
        ctx.fillStyle = "#000";
        ctx.textAlign = "center";
        ctx.textBaseline = "alphabetic";
        ctx.fillText(cfg.note.text, xs.getPixelForValue(cfg.note.x), ys.getPixelForValue(cfg.note.y) - 2.5);
      }
      ctx.restore();
    }
  };
}

function makePanel(id, cfg) {
  const showX = !!cfg.showX;
  return new Chart(document.getElementById(id), {
    type: "line",
    data: { datasets: cfg.datasets },
    options: {
      responsive: false,
      animation: false,
      events: [],
      layout: { padding: { left: 0, right: 3, top: cfg.top, bottom: showX ? 0 : 532 - cfg.bottom } },
      elements: { point: { radius: 0 }, line: { tension: 0, fill: false } },
      plugins: { legend: { display: false }, tooltip: { enabled: false } },
      scales: {
        x: {
          type: "linear",
          min: 16,
          max: 30,
          display: showX,
          afterBuildTicks: s => { s.ticks = hourTicks.map(v => ({ value: v })); },
          afterFit: s => { s.height = showX ? 37 : 0; },
          grid: { display: false, drawTicks: false },
          border: { display: false },
          ticks: {
            autoSkip: false,
            maxRotation: 0,
            padding: 3,
            color: AXIS,
            font: { family: FONT, size: 12.5 },
            callback: v => hourLabels[hourTicks.indexOf(v)]
          },
          title: {
            display: showX,
            text: "UT on 10-11 May 2024",
            color: AXIS,
            font: { family: FONT, size: 13.5 },
            padding: { top: 0, bottom: 1 }
          }
        },
        y: {
          type: "linear",
          min: cfg.yMin,
          max: cfg.yMax,
          afterBuildTicks: s => { s.ticks = cfg.yTicks.map(v => ({ value: v })); },
          afterFit: s => { s.width = 44; },
          grid: { display: false, drawTicks: false },
          border: { display: false },
          ticks: { autoSkip: false, padding: 4, color: AXIS, font: { family: FONT, size: 12.5 } }
        }
      }
    },
    plugins: [decoPlugin(cfg)]
  });
}

const zeroLine = [[16, 0], [30, 0]];

makePanel("pa", {
  top: 2, bottom: 117, yMin: 0, yMax: 90, yTicks: swdpTicks, letter: "a)", titleX: 18,
  title: [{ t: "SWDP (nPa)", size: 13 }],
  datasets: [{ data: xy(swdp), borderColor: "#000", borderWidth: 1.4 }]
});

makePanel("pb", {
  top: 125, bottom: 242, yMin: -300, yMax: 400, yTicks: fieldTicks, letter: "b)", titleX: 14,
  title: [{ t: "Bz (nT)", size: 13 }],
  shade: mainShade, bars: cyanBars, box: true,
  legend: [{ label: "GOES-18 Bz", color: "#000" }, { label: "DSCOVR Bz x 4", color: "#ff0000" }],
  datasets: [
    { data: xy(zeroLine), borderColor: "#000", borderWidth: 1, order: 0 },
    { data: xy(bzDscovr), borderColor: "#ff0000", borderWidth: 1, order: 1 },
    { data: xy(bzGoes), borderColor: "#000", borderWidth: 1, order: 2 }
  ]
});

makePanel("pc", {
  top: 251, bottom: 369, yMin: -300, yMax: 400, yTicks: fieldTicks, letter: "c)", titleX: 14,
  title: [{ t: "By (nT)", size: 13 }],
  shade: mainShade, bars: cyanBars, box: true,
  legend: [{ label: "GOES-18 By", color: "#000" }, { label: "DSCOVR By x 4", color: "#ff0000" }],
  datasets: [
    { data: xy(zeroLine), borderColor: "#000", borderWidth: 1, order: 0 },
    { data: xy(byDscovr), borderColor: "#ff0000", borderWidth: 1, order: 1 },
    { data: xy(byGoes), borderColor: "#000", borderWidth: 1, order: 2 }
  ]
});

makePanel("pd", {
  top: 378, showX: true, yMin: 2, yMax: 12, yTicks: lmpTicks, letter: "d)", titleX: 12,
  title: [{ t: "L", size: 13 }, { t: "MP", size: 9.5, dy: 3.5 }, { t: " (RE)", size: 13 }],
  note: { text: "Geostationary Orbit", x: 21.16, y: geoOrbit },
  datasets: [
    { data: xy([[16, geoOrbit], [30, geoOrbit]]), borderColor: "#000", borderWidth: 1, borderDash: [4, 3], order: 1 },
    { data: xy(lmp), borderColor: "#000", borderWidth: 1.4, order: 0 }
  ]
});
</script>
</body>
</html>
